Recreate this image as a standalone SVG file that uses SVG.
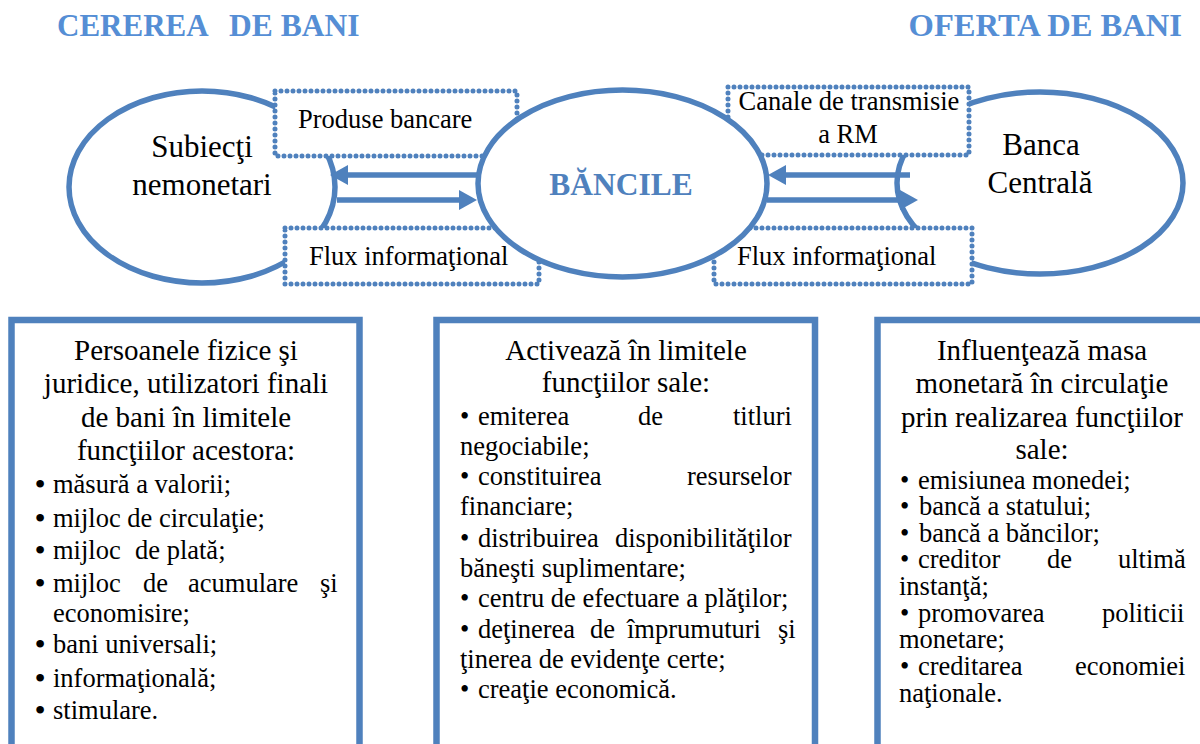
<svg xmlns="http://www.w3.org/2000/svg" width="1200" height="744" viewBox="0 0 1200 744">
<style>
.t{font-family:"Liberation Serif","Times New Roman",serif;fill:#000}
.lbl{font-size:26.5px}
.big{font-size:31px}
.hd{font-size:29px}
.mid{text-anchor:middle}
.title{font-family:"Liberation Serif","Times New Roman",serif;font-weight:bold;fill:#558ED5}
.center{font-family:"Liberation Serif","Times New Roman",serif;font-weight:bold;font-size:31.5px;fill:#4F81BD;text-anchor:middle}
.ell{fill:#fff;stroke:#4F81BD;stroke-width:5.5}
.dot{fill:#fff;stroke:#4F81BD;stroke-width:5;stroke-dasharray:0 6;stroke-linecap:round}
.card{fill:#fff;stroke:#4F81BD;stroke-width:6.5}
.arr{stroke:#4F81BD;stroke-width:5.5;fill:none;marker-end:url(#ah)}
.bb{font-size:32px}
</style>
<defs>
<marker id="ah" markerUnits="userSpaceOnUse" markerWidth="20" markerHeight="22" refX="2" refY="10" orient="auto">
<path d="M0,0 L18,10 L0,20 z" fill="#4F81BD"/>
</marker>
</defs>
<rect width="1200" height="744" fill="#fff"/>

<g id="titles">
<text class="title" x="57" y="36" font-size="31">CEREREA</text>
<text class="title" x="229" y="36" font-size="31.5">DE BANI</text>
<text class="title" x="1182" y="36" font-size="32.6" text-anchor="end">OFERTA DE BANI</text>
</g>

<g id="node-subiecti">
<ellipse class="ell" cx="202" cy="187" rx="133" ry="96"/>
<text class="t big mid" x="202" y="157">Subiecţi</text>
<text class="t big mid" x="202" y="195">nemonetari</text>
</g>

<g id="node-banca-centrala">
<ellipse class="ell" cx="1040" cy="183" rx="143" ry="91"/>
<text class="t big mid" x="1041" y="155">Banca</text>
<text class="t big mid" x="1040" y="193">Centrală</text>
</g>

<g id="label-produse">
<rect class="dot" x="275" y="91" width="242" height="65"/>
<text class="t lbl" x="298" y="128">Produse bancare</text>
</g>
<g id="label-flux-stanga">
<rect class="dot" x="285" y="228" width="254" height="56"/>
<text class="t lbl" x="309" y="265">Flux informaţional</text>
</g>
<g id="label-canale">
<rect class="dot" x="728" y="87" width="241" height="68"/>
<text class="t lbl mid" x="849" y="110">Canale de transmisie</text>
<text class="t lbl mid" x="848" y="143">a RM</text>
</g>
<g id="label-flux-dreapta">
<rect class="dot" x="714" y="228" width="258" height="56"/>
<text class="t lbl" x="737" y="265">Flux informaţional</text>
</g>

<g id="node-bancile">
<ellipse class="ell" cx="622.5" cy="183.5" rx="144.5" ry="93.5"/>
<text class="center" x="621" y="195">BĂNCILE</text>
</g>

<g id="connectors">
<line class="arr" x1="478" y1="175" x2="346" y2="175"/>
<line class="arr" x1="337" y1="200" x2="461" y2="200"/>
<line class="arr" x1="910" y1="175" x2="784" y2="175"/>
<line class="arr" x1="767" y1="200" x2="902" y2="200"/>
</g>

<g id="box-cerere">
<rect class="card" x="11.5" y="320" width="348" height="440"/>
<text class="t hd mid" x="186" y="360">Persoanele fizice şi</text>
<text class="t hd mid" x="186" y="393">juridice, utilizatori finali</text>
<text class="t hd mid" x="186" y="427">de bani în limitele</text>
<text class="t hd mid" x="186" y="460">funcţiilor acestora:</text>
<g class="t bb">
<text class="mid" x="40" y="495">•</text>
<text class="mid" x="40" y="529">•</text>
<text class="mid" x="40" y="561">•</text>
<text class="mid" x="40" y="594">•</text>
<text class="mid" x="40" y="655">•</text>
<text class="mid" x="40" y="689">•</text>
<text class="mid" x="40" y="721">•</text>
</g>
<text class="t lbl" x="53" y="493">măsură a valorii;</text>
<text class="t lbl" x="53" y="527">mijloc de circulaţie;</text>
<text class="t lbl" y="559"><tspan x="53">mijloc</tspan><tspan x="135">de plată;</tspan></text>
<text class="t lbl" y="592"><tspan x="53">mijloc</tspan><tspan x="143">de</tspan><tspan x="188">acumulare</tspan><tspan x="320">şi</tspan></text>
<text class="t lbl" x="53" y="622">economisire;</text>
<text class="t lbl" x="53" y="653">bani universali;</text>
<text class="t lbl" x="53" y="687">informaţională;</text>
<text class="t lbl" x="53" y="719">stimulare.</text>
</g>

<g id="box-bancile">
<rect class="card" x="436.5" y="320" width="378.5" height="440"/>
<text class="t hd mid" x="626" y="360">Activează în limitele</text>
<text class="t hd mid" x="626" y="392">funcţiilor sale:</text>
<text class="t lbl" y="425"><tspan x="460">•</tspan><tspan x="478">emiterea</tspan><tspan x="638">de</tspan><tspan x="733">titluri</tspan></text>
<text class="t lbl" x="460" y="455">negociabile;</text>
<text class="t lbl" y="485"><tspan x="460">•</tspan><tspan x="478">constituirea</tspan><tspan x="687">resurselor</tspan></text>
<text class="t lbl" x="460" y="515">financiare;</text>
<text class="t lbl" y="547"><tspan x="460">•</tspan><tspan x="478">distribuirea</tspan><tspan x="615">disponibilităţilor</tspan></text>
<text class="t lbl" x="460" y="577">băneşti suplimentare;</text>
<text class="t lbl" y="607"><tspan x="460">•</tspan><tspan x="478">centru de efectuare a plăţilor;</tspan></text>
<text class="t lbl" y="638"><tspan x="460">•</tspan><tspan x="478">deţinerea</tspan><tspan x="590">de</tspan><tspan x="627">împrumuturi</tspan><tspan x="778">şi</tspan></text>
<text class="t lbl" x="460" y="668">ţinerea de evidenţe certe;</text>
<text class="t lbl" y="698"><tspan x="460">•</tspan><tspan x="478">creaţie economică.</tspan></text>
</g>

<g id="box-oferta">
<rect class="card" x="877.5" y="320" width="329" height="440"/>
<text class="t hd mid" x="1042" y="360">Influenţează masa</text>
<text class="t hd mid" x="1042" y="393">monetară în circulaţie</text>
<text class="t hd mid" x="1042" y="427">prin realizarea funcţiilor</text>
<text class="t hd mid" x="1042" y="459">sale:</text>
<text class="t lbl" y="489"><tspan x="900">•</tspan><tspan x="918">emisiunea monedei;</tspan></text>
<text class="t lbl" y="515"><tspan x="900">•</tspan><tspan x="919">bancă a statului;</tspan></text>
<text class="t lbl" y="542"><tspan x="900">•</tspan><tspan x="919">bancă a băncilor;</tspan></text>
<text class="t lbl" y="568"><tspan x="900">•</tspan><tspan x="918">creditor</tspan><tspan x="1047">de</tspan><tspan x="1118">ultimă</tspan></text>
<text class="t lbl" x="899" y="595">instanţă;</text>
<text class="t lbl" y="622"><tspan x="900">•</tspan><tspan x="918">promovarea</tspan><tspan x="1102">politicii</tspan></text>
<text class="t lbl" x="899" y="648">monetare;</text>
<text class="t lbl" y="675"><tspan x="900">•</tspan><tspan x="918">creditarea</tspan><tspan x="1075">economiei</tspan></text>
<text class="t lbl" x="899" y="702">naţionale.</text>
</g>
</svg>
